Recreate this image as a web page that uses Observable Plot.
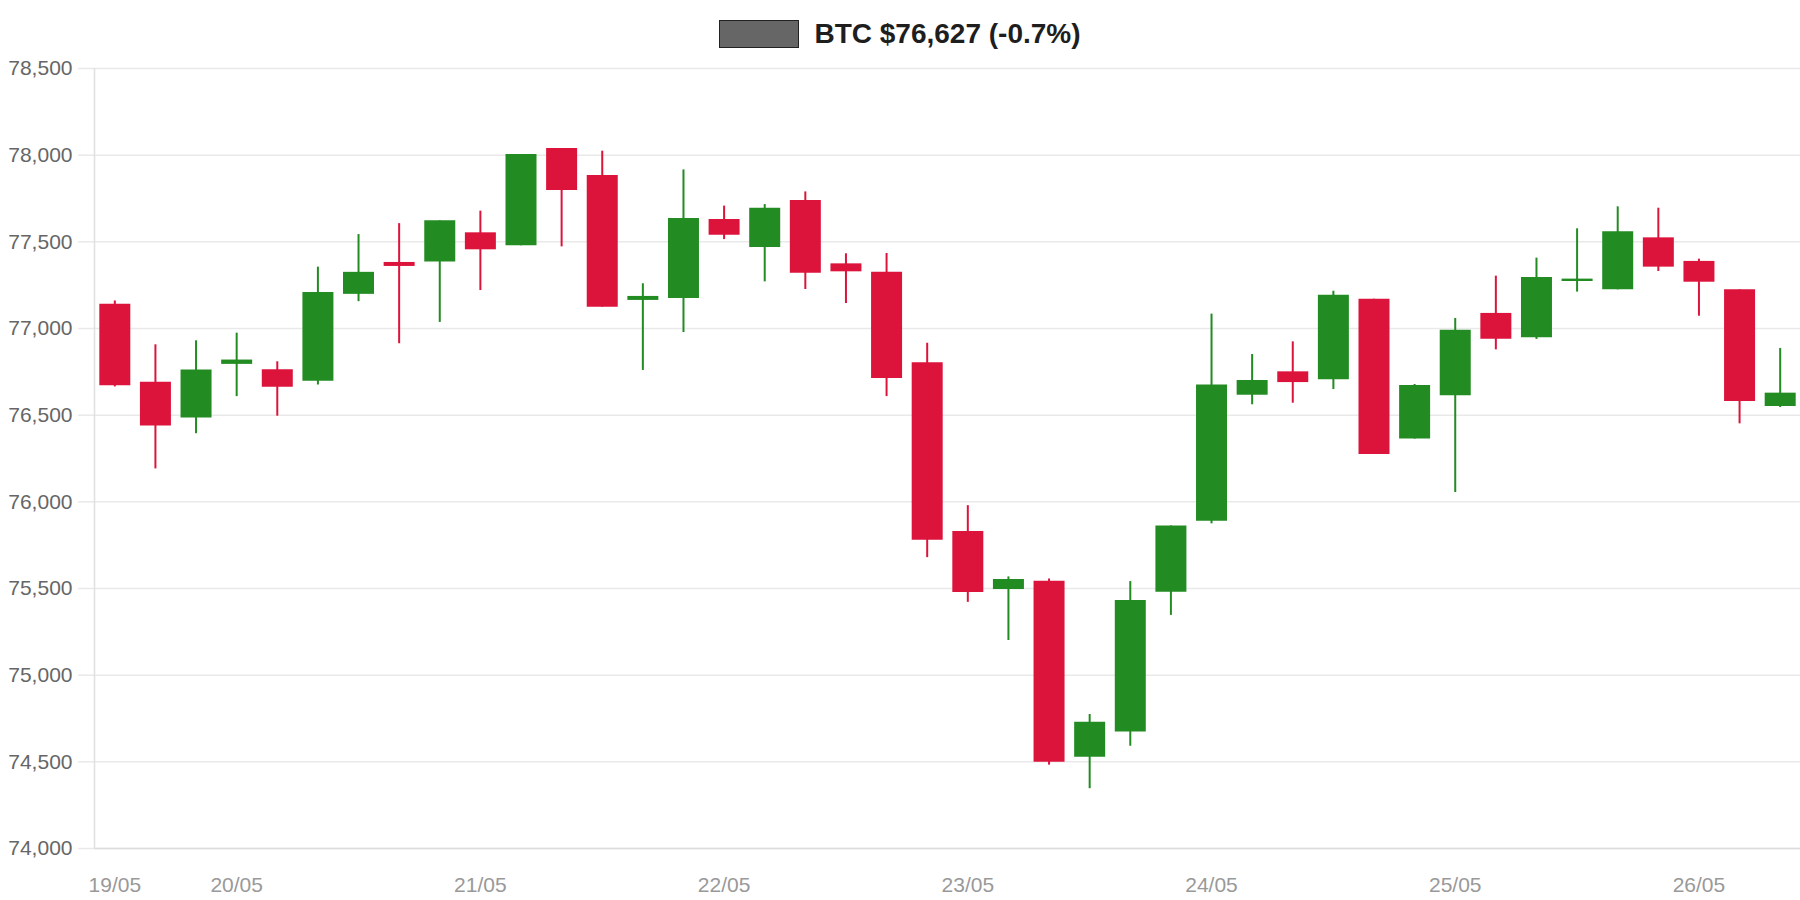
<!DOCTYPE html>
<html>
<head>
<meta charset="utf-8">
<script src="https://cdn.jsdelivr.net/npm/d3@7"></script>
<script src="https://cdn.jsdelivr.net/npm/@observablehq/plot@0.6"></script>
<style>
  html, body { margin: 0; padding: 0; background: #fff; }
  body { width: 1800px; height: 900px; overflow: hidden; font-family: "Liberation Sans", Arial, sans-serif; }
  #legend { height: 40px; position: relative; z-index: 2; }
  #legend .item { position: absolute; top: 19px; left: 0; right: 0; height: 29px; display: flex; justify-content: center; align-items: center; }
  #legend .swatch { width: 78px; height: 26px; background: #666; border: 1.5px solid #222; margin-right: 15px; }
  #legend .label { font-size: 28px; font-weight: bold; color: #1e1e1e; line-height: 29px; }
  #chart { position: relative; z-index: 1; }
  #chart svg { display: block; overflow: visible; }
</style>
</head>
<body>
<div id="legend"><div class="item"><div class="swatch"></div><div class="label">BTC $76,627 (-0.7%)</div></div></div>
<div id="chart"></div>
<script>
const times = [
  "2025-05-19T12:00Z","2025-05-19T16:00Z","2025-05-19T20:00Z",
  "2025-05-20T00:00Z","2025-05-20T04:00Z","2025-05-20T08:00Z","2025-05-20T12:00Z","2025-05-20T16:00Z","2025-05-20T20:00Z",
  "2025-05-21T00:00Z","2025-05-21T04:00Z","2025-05-21T08:00Z","2025-05-21T12:00Z","2025-05-21T16:00Z","2025-05-21T20:00Z",
  "2025-05-22T00:00Z","2025-05-22T04:00Z","2025-05-22T08:00Z","2025-05-22T12:00Z","2025-05-22T16:00Z","2025-05-22T20:00Z",
  "2025-05-23T00:00Z","2025-05-23T04:00Z","2025-05-23T08:00Z","2025-05-23T12:00Z","2025-05-23T16:00Z","2025-05-23T20:00Z",
  "2025-05-24T00:00Z","2025-05-24T04:00Z","2025-05-24T08:00Z","2025-05-24T12:00Z","2025-05-24T16:00Z","2025-05-24T20:00Z",
  "2025-05-25T00:00Z","2025-05-25T04:00Z","2025-05-25T08:00Z","2025-05-25T12:00Z","2025-05-25T16:00Z","2025-05-25T20:00Z",
  "2025-05-26T00:00Z","2025-05-26T04:00Z","2025-05-26T08:00Z"
];
const open  = [77140,76690,76483,76793,76762,76695,77197,77381,77383,77552,77477,78038,77883,77162,77173,77629,77467,77738,77373,77324,76802,75829,75494,75542,74527,74672,75479,75888,76615,76750,76704,77169,76362,76612,77087,76946,77271,77223,77523,77387,77223,76550];
const high  = [77159,76906,76929,76973,76808,77354,77542,77605,77621,77677,78004,78038,78023,77258,77915,77706,77715,77788,77431,77433,76915,75978,75567,75555,74773,75540,75861,77083,76850,76923,77215,77169,76677,77058,77302,77406,77575,77702,77694,77400,77223,76885];
const low   = [76663,76190,76393,76607,76494,76674,77155,76912,77035,77219,77477,77471,77123,76758,76977,77513,77269,77225,77144,76607,75678,75420,75200,74481,74345,74590,75345,75873,76560,76569,76648,76273,76362,76054,76877,76937,77210,77223,77329,77071,76450,76544];
const close = [76669,76437,76761,76818,76661,77207,77324,77358,77621,77454,78004,77796,77123,77185,77635,77538,77694,77319,77327,76712,75779,75477,75552,74498,74729,75431,75861,76674,76700,76688,77192,76273,76671,76990,76938,77294,77285,77558,77354,77267,76579,76627];
const xTickLabels = ["2025-05-19T12:00Z","2025-05-20T00:00Z","2025-05-21T00:00Z","2025-05-22T00:00Z","2025-05-23T00:00Z","2025-05-24T00:00Z","2025-05-25T00:00Z","2025-05-26T00:00Z"];
const yTicks = [74000,74500,75000,75500,76000,76500,77000,77500,78000,78500];

const data = times.map((t, i) => ({
  date: new Date(t), open: open[i], high: high[i], low: low[i], close: close[i],
  dir: close[i] >= open[i] ? "up" : "down"
}));
const halfStep = (data[1].date - data[0].date) / 2;
const xDomain = [new Date(+data[0].date - halfStep), new Date(+data[data.length - 1].date + halfStep)];
const yDomain = [yTicks[0], yTicks[yTicks.length - 1]];

const chart = Plot.plot({
  width: 1800,
  height: 860,
  marginTop: 28,
  marginBottom: 52,
  marginLeft: 94,
  marginRight: 0,
  style: { fontFamily: "'Liberation Sans', Arial, sans-serif", background: "transparent" },
  x: { type: "utc", domain: xDomain },
  y: { domain: yDomain },
  color: { domain: ["up", "down"], range: ["#228b22", "#dc143c"] },
  marks: [
    Plot.gridY(yTicks, { stroke: "#e9e9e9", strokeOpacity: 1, strokeWidth: 1.5 }),
    Plot.axisY(yTicks, {
      tickSize: 16, tickPadding: 6, tickFormat: d3.format(","),
      stroke: "#e9e9e9", strokeWidth: 1.5, fill: "#666", fontSize: 21
    }),
    Plot.axisX(xTickLabels.map(d => new Date(d)), {
      tickSize: 0, tickPadding: 29, tickFormat: d3.utcFormat("%d/%m"),
      fill: "#999", fontSize: 21
    }),
    Plot.ruleX([xDomain[0]], { stroke: "#e0e0e0", strokeWidth: 1.5 }),
    Plot.ruleY([yDomain[0]], { stroke: "#dcdcdc", strokeWidth: 1.5 }),
    Plot.ruleX(data, { x: "date", y1: "low", y2: "high", stroke: "dir", strokeWidth: 2 }),
    Plot.ruleX(data, { x: "date", y1: "open", y2: "close", stroke: "dir", strokeWidth: 31 })
  ]
});
document.getElementById("chart").appendChild(chart);
</script>
</body>
</html>
